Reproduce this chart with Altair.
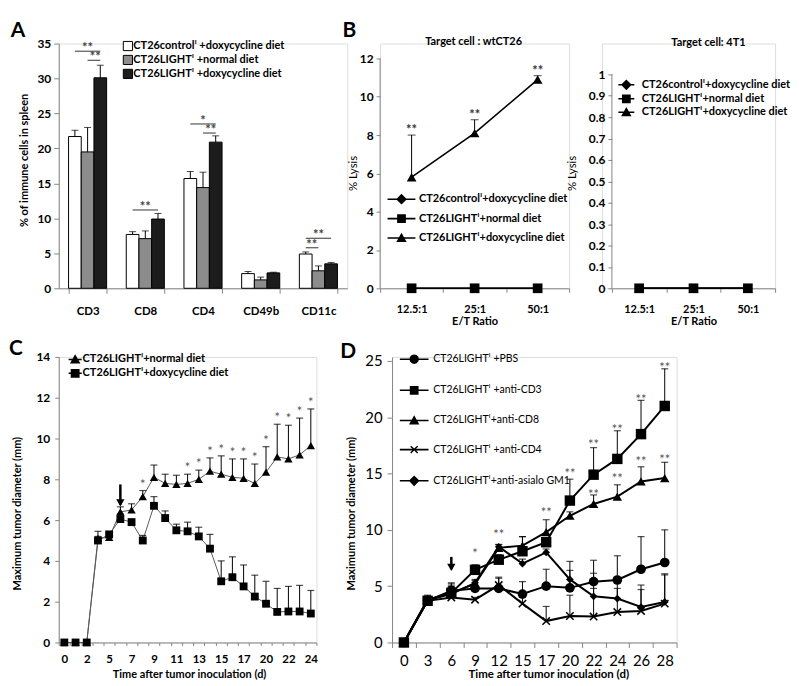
import json
import altair as alt
import pandas as pd

FONT = "Lato"
SUP = "\u2071"
GREY = "#868686"

panel_letters = ["A", "B", "C", "D"]

# ---------------- Panel A ----------------
a_cats = ["CD3", "CD8", "CD4", "CD49b", "CD11c"]
a_groups = [f"CT26control{SUP} +doxycycline diet",
            f"CT26LIGHT{SUP} +normal diet",
            f"CT26LIGHT{SUP} +doxycycline diet"]
a_ctrl = [21.7, 7.7, 15.7, 2.1, 4.9]
a_ctrl_err = [22.6, 8.1, 16.7, 2.4, 5.2]
a_norm = [19.5, 7.1, 14.4, 1.2, 2.5]
a_norm_err = [23.0, 8.2, 16.6, 1.6, 3.2]
a_doxy = [30.1, 9.9, 20.9, 2.2, 3.5]
a_doxy_err = [31.9, 10.7, 21.8, 2.3, 3.7]
a_fill_colors = ["#ffffff", "#8c8c8c", "#1c1c1c"]
a_ticks = [0, 5, 10, 15, 20, 25, 30, 35]
a_ytitle = "% of immune cells in spleen"
a_br_cat = ["CD3", "CD3", "CD8", "CD4", "CD4", "CD11c", "CD11c"]
a_br_from = [0, 1, 0, 0, 1, 0, 0]
a_br_to = [2, 2, 2, 2, 2, 2, 1]
a_br_y = [33.9, 32.6, 11.2, 23.5, 22.2, 7.15, 5.8]
a_br_text = ["**", "**", "**", "*", "**", "**", "**"]

# ---------------- Panel B ----------------
b_ratios = ["12.5:1", "25:1", "50:1"]
b_series = [f"CT26control{SUP}+doxycycline diet",
            f"CT26LIGHT{SUP}+normal diet",
            f"CT26LIGHT{SUP}+doxycycline diet"]
b_titles = ["Target cell : wtCT26", "Target cell: 4T1"]
b_xtitle = "E/T Ratio"
b_ytitle = "% Lysis"
b1_ctrl = [0, 0, 0]
b1_norm = [0, 0, 0]
b1_doxy = [5.8, 8.1, 10.9]
b1_doxy_err = [8.0, 8.8, 11.1]
b1_doxy_sig = ["**", "**", "**"]
b1_ticks = [0, 2, 4, 6, 8, 10, 12]
b2_ctrl = [0, 0, 0]
b2_norm = [0, 0, 0]
b2_doxy = [0, 0, 0]
b2_ticks = [0, 0.1, 0.2, 0.3, 0.4, 0.5, 0.6, 0.7, 0.8, 0.9, 1]

# ---------------- Panel C ----------------
c_days = ["0", "1", "2", "4", "5", "6", "7", "8", "9", "10", "11", "12",
          "13", "14", "15", "16", "17", "18", "20", "21", "22", "23", "24"]
c_series = [f"CT26LIGHT{SUP}+normal diet", f"CT26LIGHT{SUP}+doxycycline diet"]
c_norm = [0, 0, 0, 5.1, 5.15, 6.4, 6.5, 7.15, 8.1, 7.8, 7.75, 7.8,
          8.0, 8.4, 8.25, 8.1, 8.05, 7.8, 8.35, 9.1, 9.0, 9.2, 9.65]
c_norm_err = [None, None, None, 5.45, 5.35, 6.65, 6.8, 7.45, 8.7, 8.25, 8.2, 8.25,
              8.45, 9.05, 9.15, 9.0, 9.0, 8.75, 9.6, 10.7, 10.65, 11.0, 11.45]
c_norm_sig = ["", "", "", "", "", "", "", "*", "", "", "", "*",
              "*", "*", "*", "*", "*", "*", "*", "*", "*", "*", "*"]
c_doxy = [0, 0, 0, 5.0, 5.3, 6.05, 5.9, 5.0, 6.7, 6.1, 5.5, 5.45,
          5.2, 4.6, 3.0, 3.2, 2.75, 2.25, 1.9, 1.5, 1.52, 1.52, 1.42]
c_doxy_err = [None, None, None, 5.2, 5.35, 6.3, 6.05, 5.25, 7.15, 6.45, 5.8, 5.9,
              5.65, 5.3, 4.0, 4.2, 3.8, 3.3, 3.0, 2.65, 2.75, 2.8, 2.55]
c_ticks = [0, 2, 4, 6, 8, 10, 12, 14]
c_arrow_day = ["6"]
c_arrow_top = [7.75]
c_arrow_tip = [6.75]

# ---------------- Panel D ----------------
d_days = ["0", "3", "6", "9", "12", "15", "17", "20", "22", "24", "26", "28"]
d_series = [f"CT26LIGHT{SUP} +PBS", f"CT26LIGHT{SUP} +anti-CD3",
            f"CT26LIGHT{SUP}+anti-CD8", f"CT26LIGHT{SUP} +anti-CD4",
            f"CT26LIGHT{SUP}+anti-asialo GM1"]
d_pbs = [0, 3.7, 4.6, 4.8, 4.8, 4.3, 5.0, 4.85, 5.4, 5.55, 6.5, 7.1]
d_pbs_err = [None, 4.2, 5.3, 5.1, 5.8, 5.4, 6.5, 7.2, 7.3, 7.7, 9.4, 10.0]
d_cd3 = [0, 3.7, 4.4, 6.45, 7.35, 8.1, 8.9, 12.6, 14.9, 16.3, 18.5, 21.0]
d_cd3_err = [None, 4.0, 5.0, 6.9, 7.8, 9.4, 9.2, 14.5, 17.3, 18.8, 21.5, 24.3]
d_cd8 = [0, 3.8, 4.4, 5.2, 8.4, 8.6, 9.8, 11.25, 12.3, 12.95, 14.3, 14.6]
d_cd8_err = [None, 4.1, 5.2, 5.6, 8.7, 9.4, 10.9, 11.6, 13.1, 14.0, 15.6, 16.0]
d_cd4 = [0, 3.7, 4.0, 3.8, 5.1, 3.45, 1.9, 2.35, 2.3, 2.7, 2.8, 3.45]
d_cd4_err = [None, 3.9, 4.3, 4.0, 5.7, 4.0, 3.2, 4.2, 4.8, 4.8, 4.7, 6.0]
d_gm1 = [0, 3.8, 4.3, 5.3, 8.5, 7.0, 8.0, 5.6, 4.1, 3.9, 3.15, 3.6]
d_gm1_err = [None, 4.1, 5.0, 5.5, 8.7, 7.4, 8.3, 6.4, 6.15, 5.6, 5.1, 6.1]
d_sig_day = ["9", "12", "17", "20", "22", "22", "24", "24", "26", "26", "28", "28"]
d_sig_y = [8.1, 9.8, 11.8, 15.2, 13.4, 17.8, 14.8, 19.1, 16.3, 21.8, 16.5, 24.6]
d_sig_text = ["*", "**", "**", "**", "**", "**", "**", "**", "**", "**", "**", "**"]
d_ticks = [0, 5, 10, 15, 20, 25]
d_arrow_day = ["6"]
d_arrow_top = [7.6]
d_arrow_tip = [6.5]

title_time = "Time after tumor inoculation (d)"
title_diam = "Maximum tumor diameter (mm)"

X_PATH = "M-1,-1L1,1M-1,1L1,-1"


def axis_style(**kw):
    base = dict(labelFont=FONT, titleFont=FONT, labelColor="black", titleColor="black",
                domainColor=GREY, tickColor=GREY, grid=False, labelOverlap=False)
    base.update(kw)
    return alt.Axis(**base)


def note(txt, dx, dy, size=21, weight="bold"):
    return alt.Chart(pd.DataFrame({"t": [txt]})).mark_text(
        font=FONT, fontSize=size, fontWeight=weight, align="center", baseline="middle", color="black"
    ).encode(text="t:N", x=alt.value(dx), y=alt.value(dy))


def long_df(xkey, xs, names, vals, errs=None, sigs=None):
    rows = []
    for si, name in enumerate(names):
        for i, xv in enumerate(xs):
            rows.append({
                xkey: xv, "idx": i, "series": name, "value": vals[si][i],
                "err": (errs[si][i] if errs and errs[si] else None),
                "sig": (sigs[si][i] if sigs and sigs[si] else ""),
            })
    return pd.DataFrame(rows)


MARKS = {
    "diamond": [(0, -1.35), (1.35, 0), (0, 1.35), (-1.35, 0)],
    "square": [(-1.1, -1.1), (1.1, -1.1), (1.1, 1.1), (-1.1, 1.1)],
    "triangle-up": [(0, -1.3), (1.3, 1), (-1.3, 1)],
    "circle": [(1.2, 0), (1.04, 0.6), (0.6, 1.04), (0, 1.2), (-0.6, 1.04), (-1.04, 0.6), (-1.2, 0),
               (-1.04, -0.6), (-0.6, -1.04), (0, -1.2), (0.6, -1.04), (1.04, -0.6)],
    "x": [(-1, -0.75), (-0.75, -1), (0, -0.25), (0.75, -1), (1, -0.75), (0.25, 0), (1, 0.75),
          (0.75, 1), (0, 0.25), (-0.75, 1), (-1, 0.75), (-0.25, 0)],
}


def legend_path(kind, half, k=1.0, th=0.2):
    line = f"M{-half},{-th}H{half}V{th}H{-half}Z"
    pts = MARKS[kind]
    poly = "M" + "L".join(f"{round(x * k, 3)},{round(y * k, 3)}" for x, y in pts) + "Z"
    return line + poly


def legend_layer(names, kinds, half, lx, ly, size, fsize, weight, row_pad, loff, k=1.0, th=0.2):
    paths = [legend_path(kd, half, k, th) for kd in kinds]
    return alt.Chart(pd.DataFrame({"lg": names})).transform_filter("false").mark_point(
        filled=True, color="black", opacity=1
    ).encode(
        shape=alt.Shape("lg:N", sort=names, scale=alt.Scale(domain=names, range=paths),
                        legend=alt.Legend(title=None, orient="none", legendX=lx, legendY=ly,
                                          symbolSize=size, symbolFillColor="black",
                                          labelFont=FONT, labelFontSize=fsize, labelFontWeight=weight,
                                          labelColor="black", labelLimit=600, rowPadding=row_pad,
                                          labelOffset=loff, padding=0))
    )


# ======================= Panel A =======================
df_a = long_df("cat", a_cats, a_groups, [a_ctrl, a_norm, a_doxy], [a_ctrl_err, a_norm_err, a_doxy_err])
df_a = df_a.rename(columns={"series": "group"})

br_line_rows, br_text_rows = [], []
for i, (c, f, t, y, tx) in enumerate(zip(a_br_cat, a_br_from, a_br_to, a_br_y, a_br_text)):
    br_line_rows.append({"id": i, "cat": c, "group": a_groups[f], "y": y})
    br_line_rows.append({"id": i, "cat": c, "group": a_groups[t], "y": y})
    if t - f == 2:
        anchor, shift = a_groups[1], 0
    elif f == 1:
        anchor, shift = a_groups[2], -5
    else:
        anchor, shift = a_groups[0], 6
    br_text_rows.append({"cat": c, "anchor": anchor, "y": y, "text": tx, "shift": shift})
df_br_line = pd.DataFrame(br_line_rows)
df_br_text = pd.DataFrame(br_text_rows)

xA = alt.X("cat:N", sort=a_cats,
           scale=alt.Scale(domain=a_cats, paddingInner=0.34, paddingOuter=0.17),
           axis=axis_style(title=None, tickBand="extent", labelAngle=0, labelFontSize=11.5,
                           labelFontWeight="bold", tickSize=5, labelPadding=12))
offA_scale = alt.Scale(domain=a_groups)
yA_scale = alt.Scale(domain=[0, 35], nice=False)
yA_axis = axis_style(values=a_ticks, title=a_ytitle, titleFontSize=11, titleFontWeight="bold",
                     labelFontSize=12, labelFontWeight="bold", tickSize=5, labelPadding=3,
                     titleX=-29, titleY=117)


def yA(f):
    return alt.Y(f, scale=yA_scale, axis=yA_axis)


def offA(f):
    return alt.XOffset(f, sort=a_groups, scale=offA_scale)


bars = alt.Chart(df_a).mark_bar(stroke="black", strokeWidth=1).encode(
    x=xA, xOffset=offA("group:N"), y=yA("value:Q"),
    fill=alt.Fill("group:N", sort=a_groups, scale=alt.Scale(domain=a_groups, range=a_fill_colors),
                  legend=alt.Legend(title=None, orient="none", legendX=64, legendY=-3,
                                    symbolType="square", symbolSize=85, symbolStrokeColor="black",
                                    symbolStrokeWidth=1, labelFont=FONT, labelFontSize=11,
                                    labelFontWeight="bold", labelColor="black", labelLimit=600,
                                    rowPadding=-1, labelOffset=0, padding=0)))
a_rule = alt.Chart(df_a).mark_rule(color="black", strokeWidth=1).encode(
    x=xA, xOffset=offA("group:N"), y=yA("value:Q"), y2="err:Q")
a_cap = alt.Chart(df_a).mark_tick(color="black", thickness=1, size=7).encode(
    x=xA, xOffset=offA("group:N"), y=yA("err:Q"))
a_brl = alt.Chart(df_br_line).mark_line(color="#555555", strokeWidth=1.2).encode(
    x=xA, xOffset=offA("group:N"), y=yA("y:Q"), detail="id:N")
a_brt = []
for shift in [0, -5, 6]:
    a_brt.append(alt.Chart(df_br_text).transform_filter(f"datum.shift == {shift}").mark_text(
        dx=shift, dy=-3, font=FONT, fontSize=13, fontWeight="bold", color="#444444", baseline="middle"
    ).encode(x=xA, xOffset=offA("anchor:N"), y=yA("y:Q"), text="text:N"))

panelA = alt.layer(bars, a_rule, a_cap, a_brl, *a_brt, note(panel_letters[0], -41, -13)).properties(
    width=290, height=246)


# ======================= Panel B =======================
def b_panel(vals, errs, sigs, ymax, ticks, label_expr, ytitle_x, left, plot_w, extras):
    df = long_df("ratio", b_ratios, b_series, vals, errs, sigs)
    xB = alt.X("ratio:N", sort=b_ratios,
               scale=alt.Scale(type="band", domain=b_ratios, paddingInner=0, paddingOuter=0,
                               range=[left, left + plot_w]),
               bandPosition=0.5,
               axis=axis_style(title=b_xtitle, tickBand="extent", labelAngle=0, labelFontSize=11,
                               labelFontWeight="bold", titleFontSize=11, titleFontWeight="bold",
                               tickSize=4, labelPadding=11, titlePadding=1))
    ax_kw = dict(values=ticks, domain=False, title=b_ytitle, titleFontSize=11.5, titleFontWeight="normal",
                 labelFontSize=12, labelFontWeight="bold", tickSize=4, labelPadding=3,
                 titleX=ytitle_x, titleY=130, offset=-left)
    if label_expr:
        ax_kw["labelExpr"] = label_expr
    ysc = alt.Scale(domain=[0, ymax], nice=False)
    yax = axis_style(**ax_kw)

    def yB(f):
        return alt.Y(f, scale=ysc, axis=yax)

    axis_line = alt.Chart(pd.DataFrame({"lo": [ticks[0]], "hi": [ticks[-1]]})).mark_rule(
        color=GREY, strokeWidth=1).encode(x=alt.value(left), y=yB("lo:Q"), y2="hi:Q")
    lines = alt.Chart(df).mark_line(color="black", strokeWidth=1.6).encode(
        x=xB, y=yB("value:Q"), detail="series:N", order="idx:Q")
    pts = []
    for name, shp, sz in zip(b_series, ["diamond", "square", "triangle-up"], [70, 95, 95]):
        pts.append(alt.Chart(df).transform_filter(alt.datum.series == name).mark_point(
            filled=True, shape=shp, size=sz, color="black", opacity=1).encode(x=xB, y=yB("value:Q")))
    ev = df[df["err"].notna()]
    layers = [axis_line, lines, *pts]
    if len(ev):
        layers.append(alt.Chart(ev).mark_rule(color="black", strokeWidth=1).encode(
            x=xB, y=yB("value:Q"), y2="err:Q"))
        layers.append(alt.Chart(ev).mark_tick(color="black", thickness=1, size=8).encode(
            x=xB, y=yB("err:Q")))
        layers.append(alt.Chart(ev).mark_text(
            dy=-5, font=FONT, fontSize=13, fontWeight="bold", color="#333333", baseline="middle").encode(
            x=xB, y=yB("err:Q"), text="sig:N"))
    layers.extend(extras)
    return alt.layer(*layers).properties(width=left + plot_w, height=246)


legB1 = legend_layer(b_series, ["diamond", "square", "triangle-up"], 3.5, 16, 151, 64, 11, "bold", 3.5, 12)
panelB1 = b_panel([b1_ctrl, b1_norm, b1_doxy], [None, None, b1_doxy_err], [None, None, b1_doxy_sig],
                  12 * 246 / 231, b1_ticks, None, -22, 0, 190,
                  [legB1, note(panel_letters[1], -31, -13), note(b_titles[0], 94, -2, 11, "bold")])

B2_LEFT = 10
legB2 = legend_layer(b_series, ["diamond", "square", "triangle-up"], 2.0, B2_LEFT + 9, 36, 64, 11,
                     "bold", -2.5, 10)
b2_expr = "datum.value == 0 ? '0' : (datum.value == 1 ? '1' : format(datum.value, '.1f'))"
panelB2 = b_panel([b2_ctrl, b2_norm, b2_doxy], None, None, 1 * 246 / 215, b2_ticks,
                  b2_expr, -35, B2_LEFT, 164,
                  [legB2, note(b_titles[1], 107, -1, 11, "bold")])


# ======================= Panel C =======================
df_c = long_df("day", c_days, c_series, [c_norm, c_doxy], [c_norm_err, c_doxy_err], [c_norm_sig, None])
c_label_expr = f"indexof({json.dumps(c_days)}, datum.value) % 2 == 0 ? datum.value : ''"
xC = alt.X("day:N", sort=c_days,
           scale=alt.Scale(type="band", domain=c_days, paddingInner=0, paddingOuter=0),
           bandPosition=0.5,
           axis=axis_style(title=title_time, tickBand="extent", labelAngle=0, labelFontSize=11.5,
                           labelFontWeight="bold", titleFontSize=11, titleFontWeight="bold",
                           tickSize=3, labelPadding=8, titlePadding=4, labelExpr=c_label_expr,
                           titleX=131))
yC_scale = alt.Scale(domain=[0, 14], nice=False)
yC_axis = axis_style(values=c_ticks, title=title_diam, titleFontSize=11, titleFontWeight="bold",
                     labelFontSize=12, labelFontWeight="bold", tickSize=4, labelPadding=5,
                     titleX=-36, titleY=157)


def yC(f):
    return alt.Y(f, scale=yC_scale, axis=yC_axis)


c_lines = alt.Chart(df_c).mark_line(color="#5a5a5a", strokeWidth=1).encode(
    x=xC, y=yC("value:Q"), detail="series:N", order="idx:Q")
c_ev = df_c[df_c["err"].notna()]
c_rule = alt.Chart(c_ev).mark_rule(color="black", strokeWidth=1).encode(x=xC, y=yC("value:Q"), y2="err:Q")
c_cap = alt.Chart(c_ev).mark_tick(color="black", thickness=1.2, size=7).encode(x=xC, y=yC("err:Q"))
c_pts = []
for name, shp, sz in zip(c_series, ["triangle-up", "square"], [70, 62]):
    c_pts.append(alt.Chart(df_c).transform_filter(alt.datum.series == name).mark_point(
        filled=True, shape=shp, size=sz, color="black", opacity=1).encode(x=xC, y=yC("value:Q")))
c_sig = alt.Chart(c_ev[c_ev["sig"] != ""]).mark_text(
    dy=-6, font=FONT, fontSize=13, color="#555555", baseline="middle").encode(
    x=xC, y=yC("err:Q"), text="sig:N")
df_c_arrow = pd.DataFrame({"day": c_arrow_day, "top": c_arrow_top, "tip": c_arrow_tip})
c_arrow_shaft = alt.Chart(df_c_arrow).mark_rule(color="black", strokeWidth=2.5).encode(
    x=xC, y=yC("top:Q"), y2="tip:Q")
c_arrow_head = alt.Chart(df_c_arrow).mark_point(
    shape="triangle-down", filled=True, size=70, color="black", opacity=1, yOffset=-2).encode(
    x=xC, y=yC("tip:Q"))
legC = legend_layer(c_series, ["triangle-up", "square"], 2.2, 11, -3, 36, 11, "bold", -1, 2,
                    k=1.35, th=0.25)
panelC = alt.layer(c_lines, c_rule, c_cap, *c_pts, c_sig, c_arrow_shaft, c_arrow_head, legC,
                   note(panel_letters[2], -43, -8)).properties(width=259, height=287)

# ======================= Panel D =======================
df_d = long_df("day", d_days, d_series, [d_pbs, d_cd3, d_cd8, d_cd4, d_gm1],
               [d_pbs_err, d_cd3_err, d_cd8_err, d_cd4_err, d_gm1_err])
xD = alt.X("day:N", sort=d_days,
           scale=alt.Scale(type="band", domain=d_days, paddingInner=0, paddingOuter=0),
           bandPosition=0.5,
           axis=axis_style(title=title_time, tickBand="extent", labelAngle=0, labelFontSize=15,
                           labelFontWeight="normal", titleFontSize=11.5, titleFontWeight="bold",
                           tickSize=5, labelPadding=6, titlePadding=0, titleX=157))
yD_scale = alt.Scale(domain=[0, 25 * 287 / 283], nice=False)
yD_axis = axis_style(values=d_ticks, title=title_diam, titleFontSize=11, titleFontWeight="bold",
                     labelFontSize=15, labelFontWeight="normal", tickSize=5, labelPadding=5,
                     titleX=-36, titleY=157)


def yD(f):
    return alt.Y(f, scale=yD_scale, axis=yD_axis)


d_ev = df_d[df_d["err"].notna()]
d_rule = alt.Chart(d_ev).mark_rule(color="black", strokeWidth=1).encode(x=xD, y=yD("value:Q"), y2="err:Q")
d_cap = alt.Chart(d_ev).mark_tick(color="black", thickness=1.2, size=7).encode(x=xD, y=yD("err:Q"))
d_lines = alt.Chart(df_d).mark_line(color="black", strokeWidth=2).encode(
    x=xD, y=yD("value:Q"), detail="series:N", order="idx:Q")
d_pts = []
for name, shp, sz in zip(d_series, ["circle", "square", "triangle-up", X_PATH, "diamond"],
                         [95, 110, 90, 55, 60]):
    filled = shp != X_PATH
    d_pts.append(alt.Chart(df_d).transform_filter(alt.datum.series == name).mark_point(
        filled=filled, shape=shp, size=sz, color="black", opacity=1, strokeWidth=1.5).encode(
        x=xD, y=yD("value:Q")))
df_d_sig = pd.DataFrame({"day": d_sig_day, "y": d_sig_y, "text": d_sig_text})
d_sig = alt.Chart(df_d_sig).mark_text(
    dy=3, font=FONT, fontSize=13, color="#555555", baseline="middle").encode(
    x=xD, y=yD("y:Q"), text="text:N")
df_d_arrow = pd.DataFrame({"day": d_arrow_day, "top": d_arrow_top, "tip": d_arrow_tip})
d_arrow_shaft = alt.Chart(df_d_arrow).mark_rule(color="black", strokeWidth=2.5).encode(
    x=xD, y=yD("top:Q"), y2="tip:Q")
d_arrow_head = alt.Chart(df_d_arrow).mark_point(
    shape="triangle-down", filled=True, size=70, color="black", opacity=1, yOffset=-2).encode(
    x=xD, y=yD("tip:Q"))
legD = legend_layer(d_series, ["circle", "square", "triangle-up", "x", "diamond"], 3.6, 17, -3,
                    64, 10.5, "normal", 14.3, 14)
panelD = alt.layer(d_rule, d_cap, d_lines, *d_pts, d_sig, d_arrow_shaft, d_arrow_head, legD,
                   note(panel_letters[3], -44, -5)).properties(width=286, height=287)

# ======================= Layout =======================
row1 = alt.hconcat(panelA, panelB1, panelB2, spacing=33, bounds="flush").resolve_scale(
    shape="independent", fill="independent", color="independent").resolve_legend(
    shape="independent", fill="independent")
row2 = alt.hconcat(panelC, panelD, spacing=76, bounds="flush").resolve_scale(
    shape="independent", fill="independent", color="independent").resolve_legend(
    shape="independent", fill="independent")
chart = alt.vconcat(row1, row2, spacing=10).resolve_scale(
    shape="independent", fill="independent", color="independent").resolve_legend(
    shape="independent", fill="independent"
).properties(
    padding={"left": 0, "top": 9, "right": 0, "bottom": 0}
).configure_view(stroke=None).configure(font=FONT)

chart.save("out.html", embed_options={"renderer": "svg", "actions": False})
